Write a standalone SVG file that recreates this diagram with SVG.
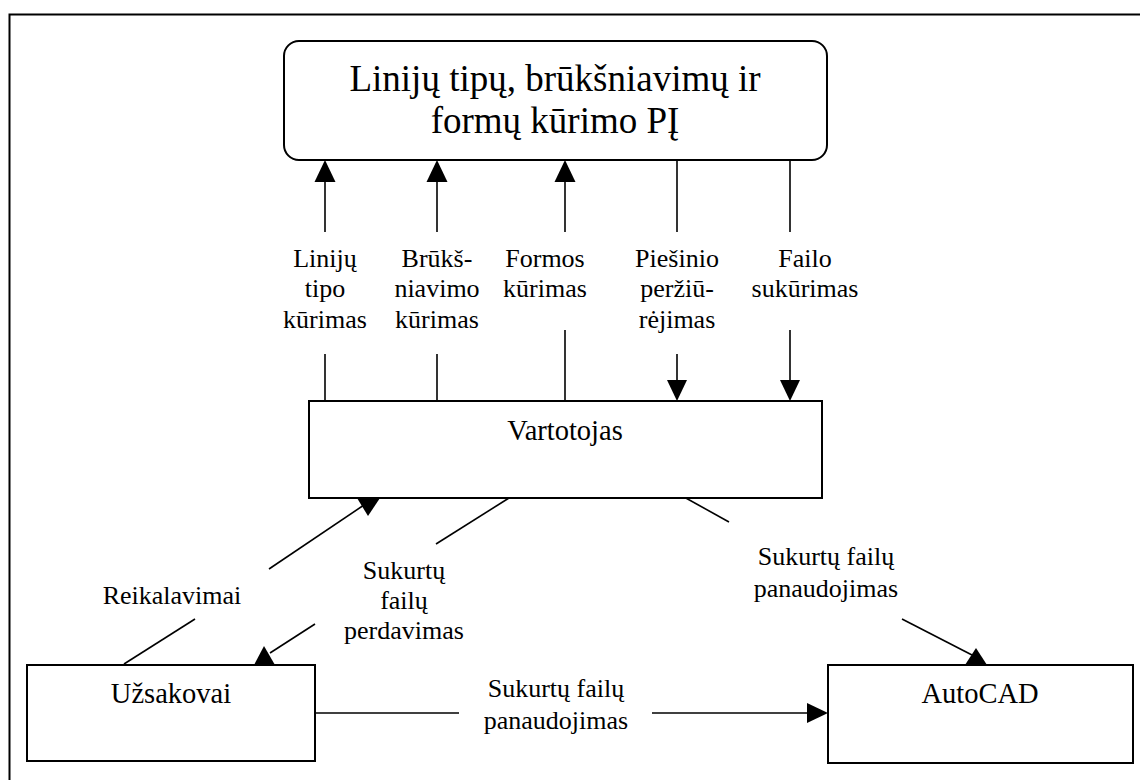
<svg xmlns="http://www.w3.org/2000/svg" width="1140" height="780" viewBox="0 0 1140 780">
<style>
.box{fill:#fff;stroke:#000;stroke-width:2}
.ln{fill:none;stroke:#000;stroke-width:1.6}
.ah{fill:#000;stroke:none}
text{font-family:"Liberation Serif","Times New Roman",serif;fill:#000;text-anchor:middle}
.t{font-size:37px}
.n{font-size:28.5px}
.l{font-size:26px}
</style>
<rect width="1140" height="780" fill="#fff"/>
<rect x="9.5" y="14.5" width="1200" height="900" fill="none" stroke="#000" stroke-width="2"/>
<g id="connectors">
  <line class="ln" x1="325" y1="182" x2="325" y2="232"/>
  <line class="ln" x1="325" y1="354" x2="325" y2="401"/>
  <polygon class="ah" points="325,160 314.5,182 335.5,182"/>
  <line class="ln" x1="437" y1="182" x2="437" y2="232"/>
  <line class="ln" x1="437" y1="354" x2="437" y2="401"/>
  <polygon class="ah" points="437,160 426.5,182 447.5,182"/>
  <line class="ln" x1="565" y1="182" x2="565" y2="232"/>
  <line class="ln" x1="565" y1="330" x2="565" y2="401"/>
  <polygon class="ah" points="565,160 554.5,182 575.5,182"/>
  <line class="ln" x1="677" y1="160" x2="677" y2="232"/>
  <line class="ln" x1="677" y1="354" x2="677" y2="380"/>
  <polygon class="ah" points="677,401 667,380 687,380"/>
  <line class="ln" x1="790" y1="160" x2="790" y2="232"/>
  <line class="ln" x1="790" y1="330" x2="790" y2="380"/>
  <polygon class="ah" points="790,401 780,380 800,380"/>
  <line class="ln" x1="124" y1="664" x2="195" y2="619"/>
  <line class="ln" x1="269" y1="569" x2="364" y2="505"/>
  <polygon class="ah" points="357,498 380,498 368,516"/>
  <line class="ln" x1="509" y1="498" x2="436" y2="544"/>
  <line class="ln" x1="315" y1="624" x2="270" y2="653"/>
  <polygon class="ah" points="254,665 275,665 264,646"/>
  <line class="ln" x1="684" y1="497" x2="729" y2="522"/>
  <line class="ln" x1="902" y1="619" x2="972" y2="655"/>
  <polygon class="ah" points="965,665 987,665 976,648"/>
  <line class="ln" x1="315" y1="713" x2="459" y2="713"/>
  <line class="ln" x1="652" y1="713" x2="807" y2="713"/>
  <polygon class="ah" points="828,713 807,703 807,723"/>
  <text class="l" x="325" y="267">Linijų</text>
  <text class="l" x="325" y="297">tipo</text>
  <text class="l" x="325" y="328">kūrimas</text>
  <text class="l" x="437" y="267">Brūkš-</text>
  <text class="l" x="437" y="297">niavimo</text>
  <text class="l" x="437" y="328">kūrimas</text>
  <text class="l" x="545" y="267">Formos</text>
  <text class="l" x="545" y="297">kūrimas</text>
  <text class="l" x="677" y="267">Piešinio</text>
  <text class="l" x="677" y="297">peržiū-</text>
  <text class="l" x="677" y="328">rėjimas</text>
  <text class="l" x="805" y="267">Failo</text>
  <text class="l" x="805" y="297">sukūrimas</text>
  <text class="l" x="172" y="604">Reikalavimai</text>
  <text class="l" x="404" y="579">Sukurtų</text>
  <text class="l" x="404" y="609">failų</text>
  <text class="l" x="404" y="639">perdavimas</text>
  <text class="l" x="826" y="565">Sukurtų failų</text>
  <text class="l" x="826" y="597">panaudojimas</text>
  <text class="l" x="556" y="697">Sukurtų failų</text>
  <text class="l" x="556" y="729">panaudojimas</text>
</g>
<g id="node-pi">
  <rect class="box" x="284" y="41" width="543" height="119" rx="15"/>
  <text class="t" x="555" y="91">Linijų tipų, brūkšniavimų ir</text>
  <text class="t" x="555" y="133">formų kūrimo PĮ</text>
</g>
<g id="node-vartotojas">
  <rect class="box" x="309" y="401" width="513" height="97"/>
  <text class="n" x="565" y="440">Vartotojas</text>
</g>
<g id="node-uzsakovai">
  <rect class="box" x="27" y="665" width="288" height="96"/>
  <text class="n" x="171" y="703">Užsakovai</text>
</g>
<g id="node-autocad">
  <rect class="box" x="828" y="665" width="305" height="98"/>
  <text class="n" x="980" y="703">AutoCAD</text>
</g>
</svg>
